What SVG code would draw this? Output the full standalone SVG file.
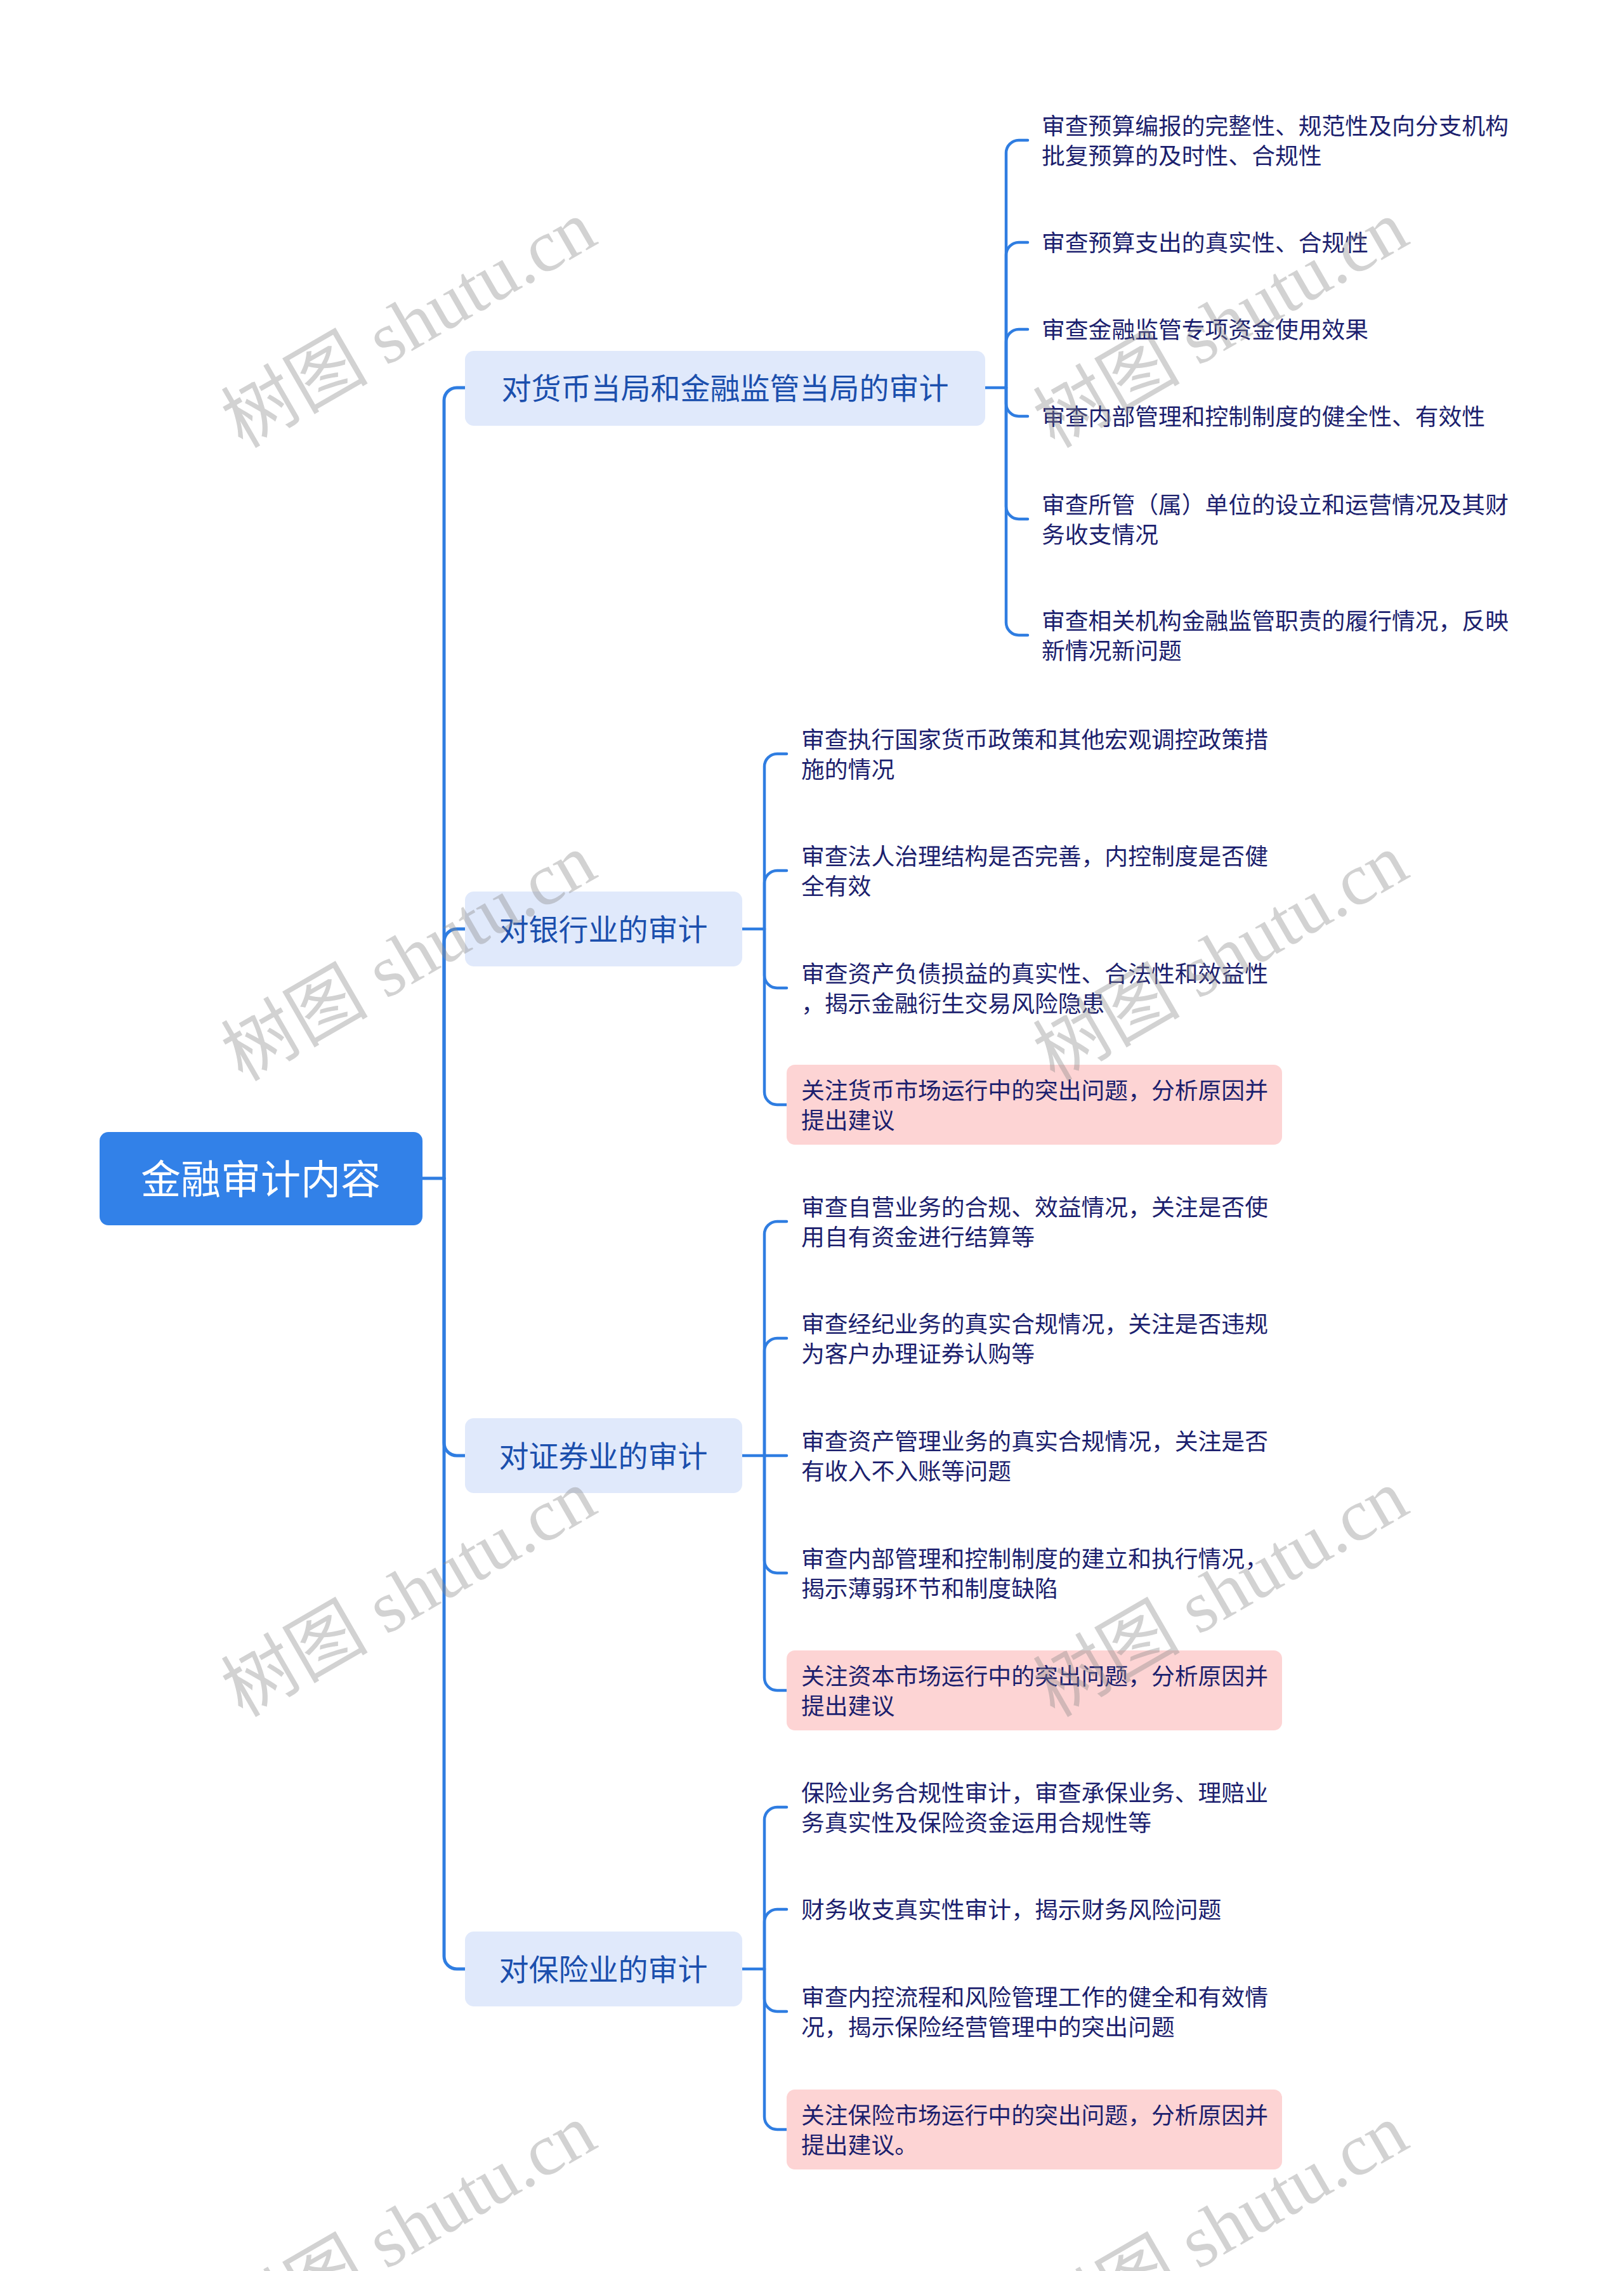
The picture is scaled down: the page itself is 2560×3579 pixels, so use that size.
<svg xmlns="http://www.w3.org/2000/svg" width="2560" height="3579" viewBox="0 0 2560 3579">
<style>
.wm{font-family:"Liberation Serif","Noto Sans CJK SC",serif;font-size:116px;fill:#8a8a8a;fill-opacity:0.38;text-anchor:middle}
.conn{fill:none;stroke:#2f7de1;stroke-width:4.5;stroke-linecap:round}
.trunk{fill:none;stroke:#2f7de1;stroke-width:5;stroke-linecap:round}
.root-box{fill:#3281e8}
.root-txt{font-family:"Noto Sans CJK SC","Noto Sans",sans-serif;font-size:63px;fill:#ffffff;text-anchor:middle}
.l1-box{fill:#e0e9fb}
.l1-txt{font-family:"Noto Sans CJK SC","Noto Sans",sans-serif;font-size:47px;fill:#1b4fad;text-anchor:middle}
.l2-txt{font-family:"Noto Sans CJK SC","Noto Sans",sans-serif;font-size:36.8px;fill:#1c1f6e}
.pink{fill:#fdd4d4}
</style>
<rect width="2560" height="3579" fill="#ffffff"/>
<g id="connectors">
<path class="trunk" d="M666 1857 H700"/>
<path class="trunk" d="M700 1857 V631 A20 20 0 0 1 720 611 H733"/>
<path class="trunk" d="M700 1857 V1484 A20 20 0 0 1 720 1464 H733"/>
<path class="trunk" d="M700 1857 V2274 A20 20 0 0 0 720 2294 H733"/>
<path class="trunk" d="M700 1857 V3083 A20 20 0 0 0 720 3103 H733"/>
<path class="conn" d="M1553 611 H1586"/>
<path class="conn" d="M1586 611 V241 A20 20 0 0 1 1606 221 H1620"/>
<path class="conn" d="M1586 611 V402 A20 20 0 0 1 1606 382 H1620"/>
<path class="conn" d="M1586 611 V539 A20 20 0 0 1 1606 519 H1620"/>
<path class="conn" d="M1586 611 V636 A20 20 0 0 0 1606 656 H1620"/>
<path class="conn" d="M1586 611 V798 A20 20 0 0 0 1606 818 H1620"/>
<path class="conn" d="M1586 611 V981 A20 20 0 0 0 1606 1001 H1620"/>
<path class="conn" d="M1170 1464 H1205"/>
<path class="conn" d="M1205 1464 V1208 A20 20 0 0 1 1225 1188 H1240"/>
<path class="conn" d="M1205 1464 V1392 A20 20 0 0 1 1225 1372 H1240"/>
<path class="conn" d="M1205 1464 V1537 A20 20 0 0 0 1225 1557 H1240"/>
<path class="conn" d="M1205 1464 V1721 A20 20 0 0 0 1225 1741 H1240"/>
<path class="conn" d="M1170 2294 H1205"/>
<path class="conn" d="M1205 2294 V1945 A20 20 0 0 1 1225 1925 H1240"/>
<path class="conn" d="M1205 2294 V2129 A20 20 0 0 1 1225 2109 H1240"/>
<path class="conn" d="M1205 2294 H1240"/>
<path class="conn" d="M1205 2294 V2459 A20 20 0 0 0 1225 2479 H1240"/>
<path class="conn" d="M1205 2294 V2644 A20 20 0 0 0 1225 2664 H1240"/>
<path class="conn" d="M1170 3103 H1205"/>
<path class="conn" d="M1205 3103 V2868 A20 20 0 0 1 1225 2848 H1240"/>
<path class="conn" d="M1205 3103 V3029 A20 20 0 0 1 1225 3009 H1240"/>
<path class="conn" d="M1205 3103 V3150 A20 20 0 0 0 1225 3170 H1240"/>
<path class="conn" d="M1205 3103 V3336 A20 20 0 0 0 1225 3356 H1240"/>
</g>
<g id="root">
<rect class="root-box" x="157" y="1784" width="509" height="147" rx="14"/>
<text class="root-txt" x="411" y="1881">金融审计内容</text>
</g>
<g id="n1">
<rect class="l1-box" x="733" y="553" width="820" height="118" rx="14"/>
<text class="l1-txt" x="1143" y="629">对货币当局和金融监管当局的审计</text>
</g>
<g id="n2">
<rect class="l1-box" x="733" y="1405" width="437" height="118" rx="14"/>
<text class="l1-txt" x="951" y="1482">对银行业的审计</text>
</g>
<g id="n3">
<rect class="l1-box" x="733" y="2235" width="437" height="118" rx="14"/>
<text class="l1-txt" x="951" y="2312">对证券业的审计</text>
</g>
<g id="n4">
<rect class="l1-box" x="733" y="3044" width="437" height="118" rx="14"/>
<text class="l1-txt" x="951" y="3121">对保险业的审计</text>
</g>
<g id="c1"><text class="l2-txt" x="1642" y="211.5">审查预算编报的完整性、规范性及向分支机构</text><text class="l2-txt" x="1642" y="258.5">批复预算的及时性、合规性</text></g>
<g id="c2"><text class="l2-txt" x="1642" y="396">审查预算支出的真实性、合规性</text></g>
<g id="c3"><text class="l2-txt" x="1642" y="533">审查金融监管专项资金使用效果</text></g>
<g id="c4"><text class="l2-txt" x="1642" y="670">审查内部管理和控制制度的健全性、有效性</text></g>
<g id="c5"><text class="l2-txt" x="1642" y="808.5">审查所管（属）单位的设立和运营情况及其财</text><text class="l2-txt" x="1642" y="855.5">务收支情况</text></g>
<g id="c6"><text class="l2-txt" x="1642" y="991.5">审查相关机构金融监管职责的履行情况，反映</text><text class="l2-txt" x="1642" y="1038.5">新情况新问题</text></g>
<g id="b1"><text class="l2-txt" x="1263" y="1178.5">审查执行国家货币政策和其他宏观调控政策措</text><text class="l2-txt" x="1263" y="1225.5">施的情况</text></g>
<g id="b2"><text class="l2-txt" x="1263" y="1362.5">审查法人治理结构是否完善，内控制度是否健</text><text class="l2-txt" x="1263" y="1409.5">全有效</text></g>
<g id="b3"><text class="l2-txt" x="1263" y="1547.5">审查资产负债损益的真实性、合法性和效益性</text><text class="l2-txt" x="1263" y="1594.5">，揭示金融衍生交易风险隐患</text></g>
<g id="b4"><rect class="pink" x="1240" y="1678" width="781" height="126" rx="13"/><text class="l2-txt" x="1263" y="1731.5">关注货币市场运行中的突出问题，分析原因并</text><text class="l2-txt" x="1263" y="1778.5">提出建议</text></g>
<g id="s1"><text class="l2-txt" x="1263" y="1915.5">审查自营业务的合规、效益情况，关注是否使</text><text class="l2-txt" x="1263" y="1962.5">用自有资金进行结算等</text></g>
<g id="s2"><text class="l2-txt" x="1263" y="2099.5">审查经纪业务的真实合规情况，关注是否违规</text><text class="l2-txt" x="1263" y="2146.5">为客户办理证券认购等</text></g>
<g id="s3"><text class="l2-txt" x="1263" y="2284.5">审查资产管理业务的真实合规情况，关注是否</text><text class="l2-txt" x="1263" y="2331.5">有收入不入账等问题</text></g>
<g id="s4"><text class="l2-txt" x="1263" y="2469.5">审查内部管理和控制制度的建立和执行情况，</text><text class="l2-txt" x="1263" y="2516.5">揭示薄弱环节和制度缺陷</text></g>
<g id="s5"><rect class="pink" x="1240" y="2601" width="781" height="126" rx="13"/><text class="l2-txt" x="1263" y="2654.5">关注资本市场运行中的突出问题，分析原因并</text><text class="l2-txt" x="1263" y="2701.5">提出建议</text></g>
<g id="i1"><text class="l2-txt" x="1263" y="2838.5">保险业务合规性审计，审查承保业务、理赔业</text><text class="l2-txt" x="1263" y="2885.5">务真实性及保险资金运用合规性等</text></g>
<g id="i2"><text class="l2-txt" x="1263" y="3023">财务收支真实性审计，揭示财务风险问题</text></g>
<g id="i3"><text class="l2-txt" x="1263" y="3160.5">审查内控流程和风险管理工作的健全和有效情</text><text class="l2-txt" x="1263" y="3207.5">况，揭示保险经营管理中的突出问题</text></g>
<g id="i4"><rect class="pink" x="1240" y="3293" width="781" height="126" rx="13"/><text class="l2-txt" x="1263" y="3346.5">关注保险市场运行中的突出问题，分析原因并</text><text class="l2-txt" x="1263" y="3393.5">提出建议。</text></g>
<g id="watermarks">
<text class="wm" transform="translate(645,512) rotate(-30)" y="38">树图 shutu.cn</text>
<text class="wm" transform="translate(1925,512) rotate(-30)" y="38">树图 shutu.cn</text>
<text class="wm" transform="translate(645,1510) rotate(-30)" y="38">树图 shutu.cn</text>
<text class="wm" transform="translate(1925,1510) rotate(-30)" y="38">树图 shutu.cn</text>
<text class="wm" transform="translate(645,2512) rotate(-30)" y="38">树图 shutu.cn</text>
<text class="wm" transform="translate(1925,2512) rotate(-30)" y="38">树图 shutu.cn</text>
<text class="wm" transform="translate(645,3512) rotate(-30)" y="38">树图 shutu.cn</text>
<text class="wm" transform="translate(1925,3512) rotate(-30)" y="38">树图 shutu.cn</text>
</g>
</svg>
